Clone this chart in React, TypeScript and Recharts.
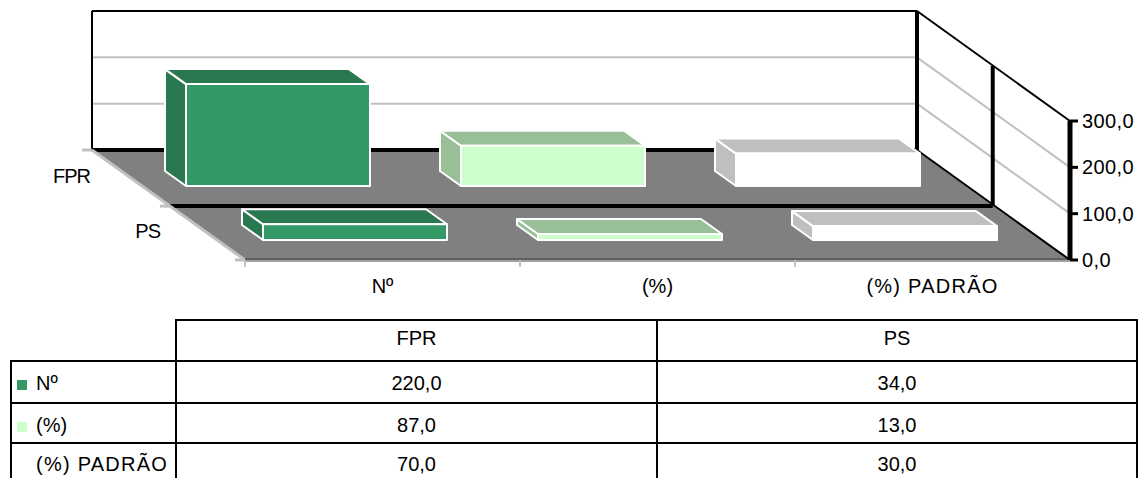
import React from 'react'
import { BarChart, Bar, XAxis, YAxis } from 'recharts'

const categories = ['Nº', '(%)', '(%) PADRÃO']
const rows = ['FPR', 'PS']
const fprValues = [220, 87, 70]
const psValues = [34, 13, 30]
const yTicks = [0, 100, 200, 300]

const fillColors = ['#339966', '#CCFFCC', '#FFFFFF']
const shadeColors = ['#29784F', '#99BF99', '#BFBFBF']

const data = categories.map((name, i) => ({ name, FPR: fprValues[i], PS: psValues[i] }))

const fmt = (v: number) => v.toFixed(1).replace('.', ',')

const FONT = '"Liberation Sans", Arial, sans-serif'
const FONT_SIZE = 20

// plot area = front plane of the 3D box
const W = 1139
const H = 478
const LEFT = 245
const RIGHT = 1070
const TOP = 121
const BOTTOM = 260
const DEPTH_X = -153
const DEPTH_Y = -110
const BAR_W = 184
const BAR_DX = -21
const BAR_DY = -15
const MID_X = 0.505
const MID_Y = 0.49

const yOf = (v: number) => BOTTOM - ((BOTTOM - TOP) * v) / 300

// the source renderer spaces this label wider than Liberation does
const spacing = (label: string) => (label.includes('PADR') ? 1.25 : 0)

// 3D box for one bar, pushed back into its row
const Box = ({ x, y, width, height, index, shiftX, shiftY }: any) => {
  const l = x + shiftX
  const t = y + shiftY
  const r = l + width
  const b = t + height
  const dx = BAR_DX
  const dy = BAR_DY
  return (
    <g stroke="#fff" strokeWidth={2} strokeLinejoin="round">
      <polygon
        points={`${l},${t} ${l + dx},${t + dy} ${l + dx},${b + dy} ${l},${b}`}
        fill={shadeColors[index]}
      />
      <polygon
        points={`${l},${t} ${l + dx},${t + dy} ${r + dx},${t + dy} ${r},${t}`}
        fill={shadeColors[index]}
      />
      <rect x={l} y={t} width={width} height={height} fill={fillColors[index]} />
    </g>
  )
}

// walls, floor, depth axis
const Scene = () => {
  const backL = LEFT + DEPTH_X
  const backR = RIGHT + DEPTH_X
  const backB = BOTTOM + DEPTH_Y
  const backT = TOP + DEPTH_Y
  const midY = BOTTOM + DEPTH_Y * MID_Y
  const bands = [0, 1, 2, 3].map(i => LEFT + ((RIGHT - LEFT) * i) / 3)
  return (
    <g>
      <polygon
        points={`${backL},${backB} ${backR},${backB} ${RIGHT},${BOTTOM} ${LEFT},${BOTTOM}`}
        fill="#808080"
      />
      {yTicks.slice(1, 3).map(v => (
        <g key={v} stroke="#C0C0C0" strokeWidth={2}>
          <line x1={backL} x2={backR} y1={yOf(v) + DEPTH_Y} y2={yOf(v) + DEPTH_Y} />
          <line x1={backR} x2={RIGHT} y1={yOf(v) + DEPTH_Y} y2={yOf(v)} />
        </g>
      ))}
      <line x1={backL} x2={backL} y1={backT} y2={backB} stroke="#000" strokeWidth={2} />
      <line x1={backL} x2={backR} y1={backT} y2={backT} stroke="#000" strokeWidth={2} />
      <line x1={backR} x2={RIGHT} y1={backT} y2={TOP} stroke="#000" strokeWidth={2} />
      <line x1={backR} x2={RIGHT} y1={backB} y2={BOTTOM} stroke="#000" strokeWidth={2} />
      <line x1={backR} x2={backR} y1={backT} y2={backB} stroke="#000" strokeWidth={4} />
      <line x1={backL} x2={backR} y1={backB} y2={backB} stroke="#000" strokeWidth={4} />
      <line
        x1={LEFT + DEPTH_X * MID_Y}
        x2={RIGHT + DEPTH_X * MID_X}
        y1={midY}
        y2={midY}
        stroke="#000"
        strokeWidth={4}
      />
      <line
        x1={RIGHT + DEPTH_X * MID_X}
        x2={RIGHT + DEPTH_X * MID_X}
        y1={TOP + DEPTH_Y * 0.5}
        y2={midY}
        stroke="#000"
        strokeWidth={4}
      />
      <line x1={backL} x2={LEFT} y1={backB} y2={BOTTOM} stroke="#C0C0C0" strokeWidth={3} />
      {[0, MID_Y, 1].map(t => (
        <line
          key={t}
          x1={LEFT + DEPTH_X * t - 10}
          x2={LEFT + DEPTH_X * t}
          y1={BOTTOM + DEPTH_Y * t}
          y2={BOTTOM + DEPTH_Y * t}
          stroke="#C0C0C0"
          strokeWidth={3}
        />
      ))}
      <line x1={LEFT} x2={RIGHT} y1={BOTTOM - 1} y2={BOTTOM - 1} stroke="#404040" strokeWidth={1} />
      <line x1={LEFT} x2={RIGHT} y1={BOTTOM + 1} y2={BOTTOM + 1} stroke="#A0A0A0" strokeWidth={2} />
      {bands.slice(0, 3).map(x => (
        <line key={x} x1={x} x2={x} y1={BOTTOM} y2={BOTTOM + 7} stroke="#C0C0C0" strokeWidth={2} />
      ))}
      <text x={90} y={183} textAnchor="end" fontFamily={FONT} fontSize={FONT_SIZE} letterSpacing={-1} fill="#000">
        {rows[0]}
      </text>
      <text x={160} y={238} textAnchor="end" fontFamily={FONT} fontSize={FONT_SIZE} letterSpacing={-1} fill="#000">
        {rows[1]}
      </text>
    </g>
  )
}

const CategoryTick = ({ x, y, payload }: any) => (
  <text
    x={x}
    y={y + 18}
    textAnchor="middle"
    dominantBaseline="central"
    fontFamily={FONT}
    fontSize={FONT_SIZE}
    letterSpacing={spacing(payload.value)}
    fill="#000"
  >
    {payload.value}
  </text>
)

const cell: React.CSSProperties = { border: '2px solid #000', padding: 0, textAlign: 'center' }
const rowHeights = [41, 42, 40, 40]
const rowNudge = [2, 4, 2]

const DataTable = () => (
  <table
    style={{
      position: 'absolute',
      left: 10,
      top: 319,
      width: 1126,
      tableLayout: 'fixed',
      borderCollapse: 'collapse',
      fontFamily: FONT,
      fontSize: FONT_SIZE,
      color: '#000',
    }}
  >
    <colgroup>
      <col style={{ width: 165 }} />
      <col style={{ width: 481 }} />
      <col style={{ width: 480 }} />
    </colgroup>
    <tbody>
      <tr style={{ height: rowHeights[0] }}>
        <td style={{ padding: 0 }} />
        {rows.map(r => (
          <td key={r} style={{ ...cell, paddingBottom: 4 }}>{r}</td>
        ))}
      </tr>
      {categories.map((c, i) => (
        <tr key={c} style={{ height: rowHeights[i + 1] }}>
          <td
            style={{
              ...cell,
              textAlign: 'left',
              whiteSpace: 'nowrap',
              letterSpacing: spacing(c),
              paddingTop: rowNudge[i],
            }}
          >
            <span
              style={{
                display: 'inline-block',
                width: 10,
                height: 10,
                margin: '0 9px 0 5px',
                background: fillColors[i],
              }}
            />
            {c}
          </td>
          <td style={{ ...cell, paddingTop: rowNudge[i] }}>{fmt(fprValues[i])}</td>
          <td style={{ ...cell, paddingTop: rowNudge[i] }}>{fmt(psValues[i])}</td>
        </tr>
      ))}
    </tbody>
  </table>
)

export default function App() {
  return (
    <div style={{ position: 'absolute', left: 0, top: 0, width: W, height: H, overflow: 'hidden', background: '#fff' }}>
      <BarChart
        width={W}
        height={H}
        data={data}
        margin={{ left: LEFT, right: 0, top: TOP, bottom: 0 }}
        barSize={BAR_W}
        barGap={-BAR_W}
      >
        <Scene />
        <XAxis
          dataKey="name"
          axisLine={false}
          tickLine={false}
          height={H - BOTTOM}
          tick={<CategoryTick />}
          interval={0}
        />
        <YAxis
          orientation="right"
          domain={[0, 300]}
          ticks={yTicks}
          width={W - RIGHT}
          axisLine={{ stroke: '#000', strokeWidth: 5 }}
          tickLine={{ stroke: '#000', strokeWidth: 3 }}
          tickSize={8}
          tickMargin={4}
          tickFormatter={fmt}
          tick={{ fill: '#000', fontFamily: FONT, fontSize: FONT_SIZE, letterSpacing: 0.4 }}
        />
        <Bar
          dataKey="FPR"
          isAnimationActive={false}
          shape={(p: any) => <Box {...p} shiftX={-105} shiftY={-74} />}
        />
        <Bar
          dataKey="PS"
          isAnimationActive={false}
          shape={(p: any) => <Box {...p} shiftX={-28} shiftY={-20} />}
        />
      </BarChart>
      <DataTable />
    </div>
  )
}
